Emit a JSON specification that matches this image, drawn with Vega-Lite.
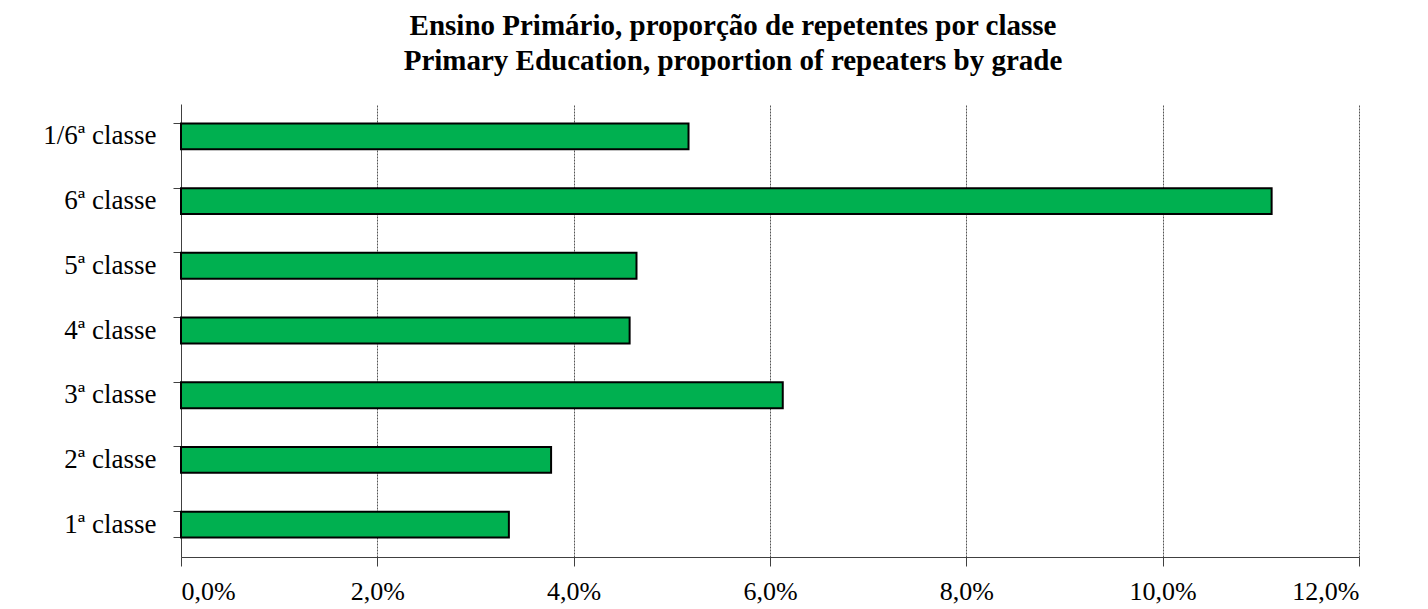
{
  "$schema": "https://vega.github.io/schema/vega-lite/v6.json",
  "autosize": "none",
  "width": 1178,
  "height": 453,
  "padding": {"left": 181, "top": 104, "right": 69, "bottom": 52},
  "background": "white",
  "title": {
    "text": ["Ensino Primário, proporção de repetentes por classe", "Primary Education, proportion of repeaters by grade"],
    "font": "Liberation Serif",
    "fontSize": 29,
    "fontWeight": "bold",
    "color": "black",
    "anchor": "middle",
    "frame": "group",
    "dx": -37,
    "offset": 28,
    "lineHeight": 35
  },
  "data": {
    "values": [
      {"classe": "1/6ª classe", "valor": 0.0517},
      {"classe": "6ª classe", "valor": 0.1111},
      {"classe": "5ª classe", "valor": 0.0464},
      {"classe": "4ª classe", "valor": 0.0457},
      {"classe": "3ª classe", "valor": 0.0613},
      {"classe": "2ª classe", "valor": 0.0377},
      {"classe": "1ª classe", "valor": 0.0334}
    ]
  },
  "resolve": {"axis": {"y": "independent", "x": "independent"}},
  "layer": [
    {
      "mark": {"type": "bar", "opacity": 0},
      "encoding": {
        "y": {
          "field": "classe", "type": "nominal", "sort": null, "title": null,
          "axis": {
            "orient": "left", "offset": -9, "bandPosition": 0, "tickSize": 17,
            "tickColor": "#404040", "domain": false, "labels": false, "grid": false
          }
        },
        "x": {"field": "valor", "type": "quantitative", "scale": {"domain": [0, 0.12], "nice": false}, "axis": null}
      }
    },
    {
      "mark": {"type": "bar", "opacity": 0},
      "encoding": {
        "y": {
          "field": "classe", "type": "nominal", "sort": null, "title": null,
          "axis": {
            "orient": "left", "offset": -9, "bandPosition": 1, "tickSize": 17,
            "values": ["1ª classe"],
            "tickColor": "#404040", "domain": false, "labels": false, "grid": false
          }
        },
        "x": {"field": "valor", "type": "quantitative", "scale": {"domain": [0, 0.12], "nice": false}, "axis": null}
      }
    },
    {
      "mark": {"type": "bar", "color": "#00B050", "stroke": "black", "strokeWidth": 2},
      "encoding": {
        "y": {
          "field": "classe",
          "type": "nominal",
          "sort": null,
          "title": null,
          "scale": {"paddingInner": 0.6, "paddingOuter": 0.3},
          "axis": {
            "orient": "left",
            "ticks": false,
            "domainColor": "#404040",
            "domainWidth": 1,
            "labelFont": "Liberation Serif",
            "labelFontSize": 27,
            "labelColor": "black",
            "labelPadding": 25,
            "grid": false
          }
        },
        "x": {
          "field": "valor",
          "type": "quantitative",
          "title": null,
          "scale": {"domain": [0, 0.12], "nice": false},
          "axis": {
            "orient": "bottom",
            "values": [0, 0.02, 0.04, 0.06, 0.08, 0.1, 0.12],
            "labelExpr": "replace(format(datum.value, '.1%'), '.', ',')",
            "labelFont": "Liberation Serif",
            "labelFontSize": 26,
            "labelColor": "black",
            "labelPadding": 12,
            "tickSize": 9,
            "tickColor": "#404040",
            "domainColor": "#404040",
            "grid": true,
            "gridColor": "#555555",
            "gridDash": [2, 1],
            "gridWidth": 1
          }
        }
      }
    }
  ],
  "config": {"view": {"stroke": null}}
}
